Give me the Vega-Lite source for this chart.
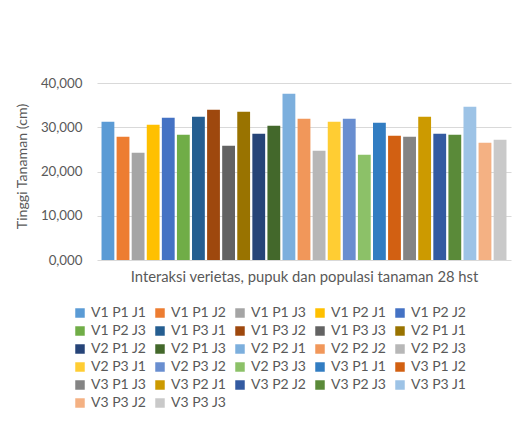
{
  "$schema": "https://vega.github.io/schema/vega-lite/v6.json",
  "width": 414,
  "height": 177,
  "autosize": {"type": "none"},
  "padding": {"left": 97, "top": 83, "right": 10, "bottom": 166},
  "background": "white",
  "config": {"view": {"stroke": null}, "font": "Lato"},
  "data": {"values": [
    {"k": "V1 P1 J1", "v": 31.25},
    {"k": "V1 P1 J2", "v": 27.85},
    {"k": "V1 P1 J3", "v": 24.23},
    {"k": "V1 P2 J1", "v": 30.57},
    {"k": "V1 P2 J2", "v": 32.15},
    {"k": "V1 P2 J3", "v": 28.30},
    {"k": "V1 P3 J1", "v": 32.38},
    {"k": "V1 P3 J2", "v": 33.96},
    {"k": "V1 P3 J3", "v": 25.81},
    {"k": "V2 P1 J1", "v": 33.51},
    {"k": "V2 P1 J2", "v": 28.53},
    {"k": "V2 P1 J3", "v": 30.34},
    {"k": "V2 P2 J1", "v": 37.58},
    {"k": "V2 P2 J2", "v": 31.92},
    {"k": "V2 P2 J3", "v": 24.68},
    {"k": "V2 P3 J1", "v": 31.25},
    {"k": "V2 P3 J2", "v": 31.92},
    {"k": "V2 P3 J3", "v": 23.77},
    {"k": "V3 P1 J1", "v": 31.02},
    {"k": "V3 P1 J2", "v": 28.08},
    {"k": "V3 P1 J3", "v": 27.85},
    {"k": "V3 P2 J1", "v": 32.38},
    {"k": "V3 P2 J2", "v": 28.53},
    {"k": "V3 P2 J3", "v": 28.30},
    {"k": "V3 P3 J1", "v": 34.64},
    {"k": "V3 P3 J2", "v": 26.49},
    {"k": "V3 P3 J3", "v": 27.17}
  ]},
  "mark": {"type": "bar"},
  "encoding": {
    "x": {
      "field": "k", "type": "nominal", "sort": null,
      "scale": {"paddingInner": 0.15, "paddingOuter": 0.3},
      "axis": {
        "labels": false, "ticks": false, "domain": false,
        "title": "Interaksi verietas, pupuk dan populasi tanaman 28 hst",
        "titleFont": "Lato", "titleFontSize": 14.8, "titleFontWeight": "normal",
        "titleColor": "#595959", "titlePadding": 9
      }
    },
    "y": {
      "field": "v", "type": "quantitative",
      "scale": {"domain": [0, 40], "nice": false},
      "axis": {
        "values": [0, 10, 20, 30, 40],
        "labelExpr": "replace(format(datum.value, '.3f'), '.', ',')",
        "domain": false, "ticks": false,
        "gridColor": "#D9D9D9", "gridWidth": 1,
        "labelFont": "Lato", "labelFontSize": 13.3, "labelColor": "#595959", "labelPadding": 15,
        "title": "Tinggi Tanaman (cm)",
        "titleFont": "Lato", "titleFontSize": 14.2, "titleFontWeight": "normal", "titleColor": "#595959",
        "titleX": -75, "titleY": 83, "titleAngle": -90, "titleAlign": "center", "titleBaseline": "middle"
      }
    },
    "color": {
      "field": "k", "type": "nominal", "sort": null,
      "scale": {
        "domain": ["V1 P1 J1","V1 P1 J2","V1 P1 J3","V1 P2 J1","V1 P2 J2","V1 P2 J3","V1 P3 J1","V1 P3 J2","V1 P3 J3","V2 P1 J1","V2 P1 J2","V2 P1 J3","V2 P2 J1","V2 P2 J2","V2 P2 J3","V2 P3 J1","V2 P3 J2","V2 P3 J3","V3 P1 J1","V3 P1 J2","V3 P1 J3","V3 P2 J1","V3 P2 J2","V3 P2 J3","V3 P3 J1","V3 P3 J2","V3 P3 J3"],
        "range": ["#5B9BD5","#ED7D31","#A5A5A5","#FFC000","#4472C4","#70AD47","#255E91","#9E480E","#636363","#997300","#264478","#43682B","#7CAFDD","#F1975A","#B7B7B7","#FFCD33","#698ED0","#8CC168","#327DC2","#D26012","#848484","#CC9A00","#335AA1","#5A8A39","#9DC3E6","#F4B183","#C9C9C9"]
      },
      "legend": {
        "orient": "none", "legendX": -24, "legendY": 223,
        "columns": 5, "direction": "horizontal", "gridAlign": "all",
        "title": null, "padding": 0,
        "symbolType": "square", "symbolSize": 90, "symbolStrokeWidth": 0, "symbolOpacity": 1,
        "labelFont": "Lato", "labelFontSize": 14, "labelColor": "#595959", "labelOffset": 4,
        "labelLimit": 200,
        "rowPadding": 4, "columnPadding": 6
      }
    }
  }
}
